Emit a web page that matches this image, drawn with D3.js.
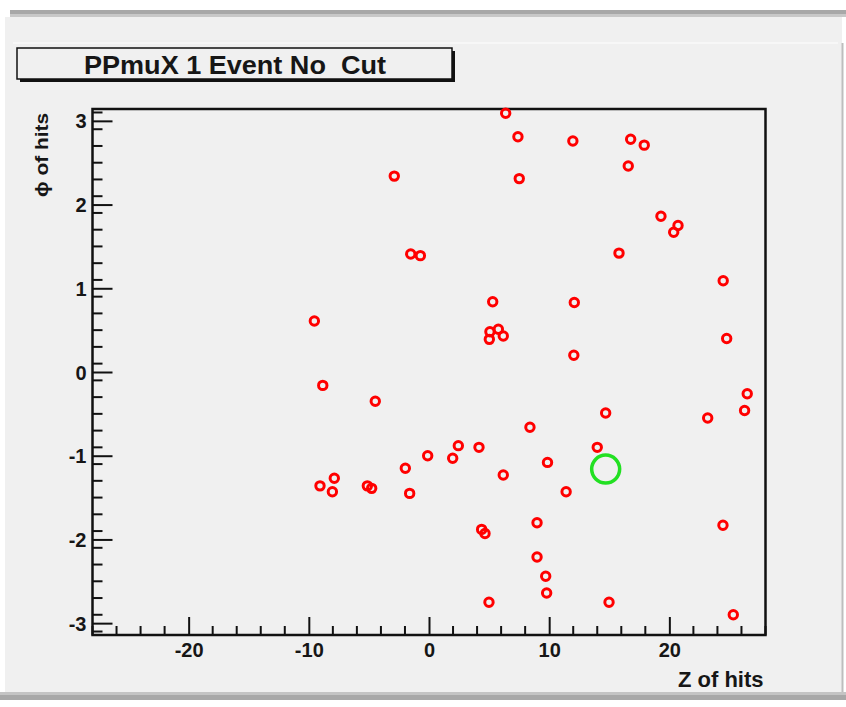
<!DOCTYPE html>
<html>
<head>
<meta charset="utf-8">
<script src="https://cdn.jsdelivr.net/npm/d3@7"></script>
<style>
  body { margin: 0; background: #fff; }
  svg { display: block; font-family: "Liberation Sans", Arial, sans-serif; }
</style>
</head>
<body>
<svg id="chart"></svg>
<script>
// hit positions
const zHits = [6.38, 7.40, 11.97, 16.78, 17.91, 16.58, -2.89, 7.51, 19.30, 20.72,
  20.36, -1.52, -0.72, 15.81, 24.48, 5.30, 12.09, -9.54, 5.07, 5.77,
  6.18, 5.02, 24.77, 12.05, -8.84, 26.48, 26.26, -4.47, 14.70, 23.19,
  8.40, 2.44, 4.16, 14.00, -0.11, 1.97, 9.86, -1.97, 6.18, -7.88,
  -9.07, -8.04, -5.13, -4.77, -1.61, 11.41, 24.46, 8.99, 4.38, 4.66,
  8.99, 9.71, 9.79, 4.99, 14.98, 25.32];
const phiHits = [3.09, 2.81, 2.76, 2.78, 2.71, 2.46, 2.34, 2.31, 1.86, 1.75,
  1.67, 1.41, 1.39, 1.42, 1.09, 0.84, 0.83, 0.61, 0.48, 0.51,
  0.43, 0.39, 0.40, 0.20, -0.16, -0.26, -0.46, -0.35, -0.49, -0.55,
  -0.66, -0.88, -0.90, -0.90, -1.00, -1.03, -1.08, -1.15, -1.23, -1.27,
  -1.36, -1.43, -1.36, -1.39, -1.45, -1.43, -1.83, -1.80, -1.88, -1.93,
  -2.21, -2.44, -2.64, -2.75, -2.75, -2.90];
// seed / vertex marker (green)
const seedZ = [14.70];
const seedPhi = [-1.16];

const xTicks = [-20, -10, 0, 10, 20];
const yTicks = [-3, -2, -1, 0, 1, 2, 3];
const title = 'PPmuX 1 Event No  Cut';

const W = 846, H = 707;
const frame = { left: 92.5, right: 765.5, top: 109, bottom: 635 };

const svg = d3.select('#chart').attr('width', W).attr('height', H);

// canvas / pad background
svg.append('rect').attr('width', W).attr('height', H).attr('fill', '#fff');
svg.append('rect').attr('x', 5).attr('y', 17).attr('width', 837).attr('height', 676).attr('fill', '#f0f0f0');
svg.append('rect').attr('x', 10).attr('y', 10).attr('width', 836).attr('height', 7).attr('fill', '#a8a8a8');
svg.append('rect').attr('x', 10).attr('y', 14).attr('width', 836).attr('height', 3).attr('fill', '#c8c8c8');
svg.append('line').attr('x1', 13).attr('x2', 838).attr('y1', 43).attr('y2', 43).attr('stroke', '#fafafa').attr('stroke-width', 1.5);
svg.append('line').attr('x1', 842.5).attr('x2', 842.5).attr('y1', 43).attr('y2', 693).attr('stroke', '#bdbdbd').attr('stroke-width', 2);
svg.append('rect').attr('x', 0).attr('y', 692).attr('width', W).attr('height', 8).attr('fill', '#a8a8a8');
svg.append('rect').attr('x', 0).attr('y', 692).attr('width', W).attr('height', 3).attr('fill', '#c4c4c4');

const x = d3.scaleLinear().domain([-28, 28]).range([frame.left, frame.right]);
const y = d3.scaleLinear().domain([-Math.PI, Math.PI]).range([frame.bottom, frame.top]);

// minor ticks
const xMinor = d3.range(-28, 28.01, 2).filter(v => v % 10 !== 0);
const yMinor = d3.range(-31, 32, 2).map(v => v / 10).filter(v => Math.abs(v) < Math.PI && Math.abs(v * 10) % 10 !== 0);

const fmt = d => String(d); // plain hyphen like the original

const axisX = svg.append('g').attr('transform', `translate(0,${frame.bottom})`)
  .call(d3.axisBottom(x).tickValues(xTicks).tickSize(-18).tickFormat(fmt));
axisX.append('g').selectAll('line').data(xMinor).join('line')
  .attr('x1', d => x(d)).attr('x2', d => x(d)).attr('y1', 0).attr('y2', -9);

const axisY = svg.append('g').attr('transform', `translate(${frame.left},0)`)
  .call(d3.axisLeft(y).tickValues(yTicks).tickSize(-20).tickFormat(fmt));
axisY.append('g').selectAll('line').data(yMinor).join('line')
  .attr('y1', d => y(d)).attr('y2', d => y(d)).attr('x1', 0).attr('x2', 10);

[axisX, axisY].forEach(a => {
  a.select('.domain').remove();
  a.selectAll('line').attr('stroke', '#111').attr('stroke-width', 2);
  a.selectAll('text').attr('fill', '#161616').attr('font-size', 20).attr('font-weight', 'bold')
    .attr('font-family', '"Liberation Sans", Arial, sans-serif');
});
axisX.selectAll('.tick text').attr('dy', null).attr('y', 22);
axisY.selectAll('.tick text').attr('x', -6).attr('dy', '0.35em');

// frame box
svg.append('rect')
  .attr('x', frame.left).attr('y', frame.top)
  .attr('width', frame.right - frame.left).attr('height', frame.bottom - frame.top)
  .attr('fill', 'none').attr('stroke', '#111').attr('stroke-width', 2.5);

// hits
const hits = zHits.map((z, i) => ({ z, phi: phiHits[i] }));
svg.append('g').selectAll('circle').data(hits).join('circle')
  .attr('cx', d => x(d.z)).attr('cy', d => y(d.phi)).attr('r', 4.2)
  .attr('fill', 'none').attr('stroke', '#ff0000').attr('stroke-width', 3);

svg.append('g').selectAll('circle').data(seedZ).join('circle')
  .attr('cx', d => x(d)).attr('cy', (d, i) => y(seedPhi[i])).attr('r', 14)
  .attr('fill', 'none').attr('stroke', '#22e022').attr('stroke-width', 3.5);

// axis titles
svg.append('text')
  .attr('x', frame.right - 2).attr('y', 687)
  .attr('text-anchor', 'end').attr('font-size', 22).attr('font-weight', 'bold').attr('fill', '#161616')
  .text('Z of hits');

svg.append('text')
  .attr('transform', 'translate(48,113) rotate(-90)')
  .attr('text-anchor', 'end').attr('font-size', 19).attr('font-weight', 'bold').attr('fill', '#161616')
  .attr('textLength', 84).attr('lengthAdjust', 'spacingAndGlyphs')
  .text('ϕ of hits');

// title box with shadow
svg.append('rect').attr('x', 20).attr('y', 51).attr('width', 435).attr('height', 31).attr('fill', '#111');
svg.append('rect').attr('x', 17).attr('y', 48).attr('width', 435).attr('height', 31)
  .attr('fill', '#f0f0f0').attr('stroke', '#111').attr('stroke-width', 1.5);
svg.append('text')
  .attr('x', 235).attr('y', 74).attr('text-anchor', 'middle')
  .attr('font-size', 25).attr('font-weight', 'bold').attr('fill', '#161616')
  .style('white-space', 'pre')
  .attr('textLength', 302).attr('lengthAdjust', 'spacingAndGlyphs')
  .text(title);
</script>
</body>
</html>
